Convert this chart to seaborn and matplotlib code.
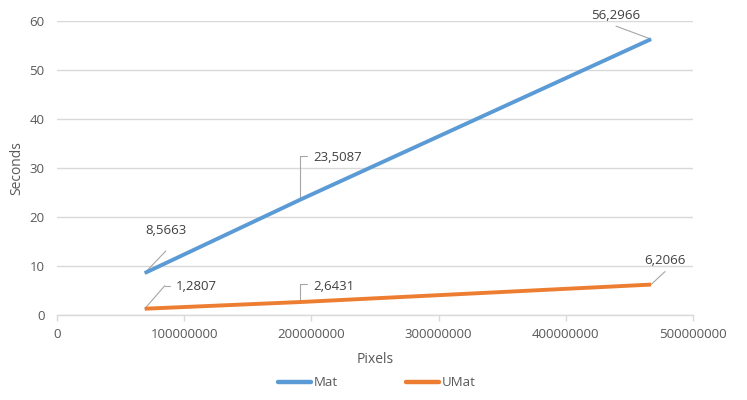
import pandas as pd
import matplotlib.pyplot as plt
import seaborn as sns
from matplotlib.transforms import offset_copy

pixels = [69000000, 191000000, 467000000]
mat = [8.5663, 23.5087, 56.2966]
umat = [1.2807, 2.6431, 6.2066]
series = ["Mat", "UMat"]
colors = ["#5B9BD5", "#ED7D31"]
x_ticks = [0, 100000000, 200000000, 300000000, 400000000, 500000000]
y_ticks = [0, 10, 20, 30, 40, 50, 60]

df = pd.DataFrame({
    "Pixels": pixels * 2,
    "Seconds": mat + umat,
    "serie": [series[0]] * 3 + [series[1]] * 3,
})

sns.set_style("white")
plt.rcParams["font.family"] = ["Open Sans", "DejaVu Sans"]
txt = "#595959"

fig = plt.figure(figsize=(7.47, 4.0), dpi=100)
ax = fig.add_axes([57 / 747, 85 / 400, 636 / 747, 294 / 400])

sns.lineplot(data=df, x="Pixels", y="Seconds", hue="serie", palette=colors,
             linewidth=2.8, ax=ax, legend=False, solid_capstyle="butt")

ax.set_xlim(0, 500000000)
ax.set_ylim(0, 60)
ax.set_xticks(x_ticks)
ax.set_xticklabels([str(t) for t in x_ticks])
ax.set_yticks(y_ticks)
ax.grid(axis="y", color="#D9D9D9", linewidth=1)
ax.set_axisbelow(True)
for s in ["top", "right", "left"]:
    ax.spines[s].set_visible(False)
ax.spines["bottom"].set_color("#D9D9D9")
ax.spines["bottom"].set_linewidth(1)
ax.tick_params(axis="x", length=4, width=1, color="#D9D9D9", pad=5,
               labelsize=9.5, labelcolor=txt, bottom=True)
ax.tick_params(axis="y", length=0, pad=9, labelsize=9.5, labelcolor=txt)
ax.set_xlabel("Pixels", fontsize=10, color=txt, labelpad=8)
ax.set_ylabel("Seconds", fontsize=10, color=txt, labelpad=4)


def seg(x, y, a, b):
    # leader segment between two pixel offsets from a data point
    t1 = offset_copy(ax.transData, fig=fig, x=a[0], y=a[1], units="dots")
    t2 = offset_copy(ax.transData, fig=fig, x=b[0], y=b[1], units="dots")
    p1 = t1.transform((x, y))
    p2 = t2.transform((x, y))
    ax.plot([p1[0], p2[0]], [p1[1], p2[1]], transform=None,
            color="#A6A6A6", lw=0.8, zorder=1)


def data_label(x, y, text, tpos, ha, path):
    ax.annotate(text, (x, y), xytext=tpos, textcoords="offset pixels",
                ha=ha, va="center", fontsize=9.5, color="#404040")
    pts = [(0, 0)] + path
    for a, b in zip(pts[:-1], pts[1:]):
        seg(x, y, a, b)


data_label(pixels[0], mat[0], "8,5663", (1, 43), "left", [(21, 22)])
data_label(pixels[1], mat[1], "23,5087", (13, 42), "left", [(0, 44), (7, 44)])
data_label(pixels[2], mat[2], "56,2966", (-35, 24), "center", [(-35, 13)])
data_label(pixels[0], umat[0], "1,2807", (31, 22), "left", [(20, 23), (25, 23)])
data_label(pixels[1], umat[1], "2,6431", (13, 16), "left", [(0, 18), (7, 18)])
data_label(pixels[2], umat[2], "6,2066", (14, 24), "center", [(14, 13)])

handles = [plt.Line2D([], [], color=c, lw=3.2) for c in colors]
fig.legend(handles, series, loc="center", bbox_to_anchor=(377 / 747, 1 - 383 / 400),
           ncol=2, frameon=False, fontsize=9.5, labelcolor=txt, handlelength=2.5,
           handletextpad=0.2, columnspacing=5.2)

fig.savefig("out.png", dpi=100)
